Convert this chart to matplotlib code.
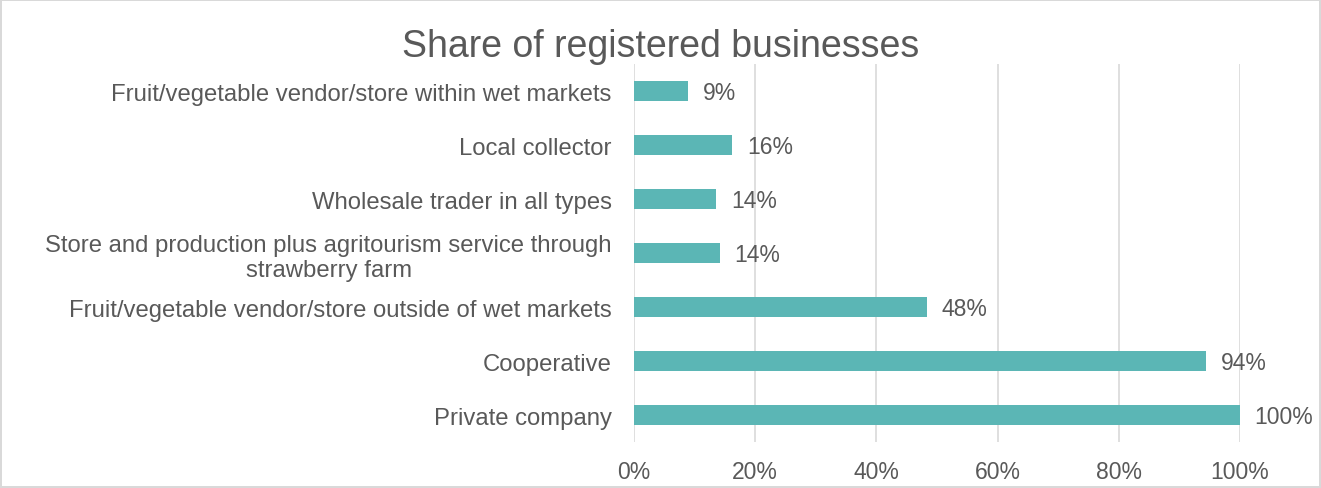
import matplotlib.pyplot as plt
import matplotlib.ticker as mtick

plt.rcParams['font.family'] = ['Liberation Sans', 'DejaVu Sans']

categories = [
    'Fruit/vegetable vendor/store within wet markets',
    'Local collector',
    'Wholesale trader in all types',
    'Store and production plus agritourism service through\nstrawberry farm',
    'Fruit/vegetable vendor/store outside of wet markets',
    'Cooperative',
    'Private company',
]
shares = [0.089, 0.162, 0.136, 0.142, 0.483, 0.944, 1.0]

bar_color = '#5BB6B5'
text_color = '#595959'
grid_color = '#D9D9D9'

fig = plt.figure(figsize=(13.21, 4.89), dpi=100)
fig.patch.set_edgecolor('#D9D9D9')
fig.patch.set_linewidth(1.5)
ax = fig.add_axes([0.48, 0.094, 0.4587, 0.773])

y = list(range(len(categories)))
ax.barh(y, shares, height=0.37, color=bar_color, zorder=3)

# value labels to the right of each bar
for yi, v in zip(y, shares):
    ax.text(v + 0.024, yi + 0.03, f'{v:.0%}', va='center', ha='left',
            fontsize=16.5, color=text_color)

ax.set_xlim(0, 1)
ax.set_ylim(len(categories) - 0.5, -0.5)
ax.set_yticks(y)
ax.set_yticklabels(categories, multialignment='center', linespacing=1.2)
ax.set_xticks([0, 0.2, 0.4, 0.6, 0.8, 1.0])
ax.xaxis.set_major_formatter(mtick.PercentFormatter(1.0, decimals=0))

ax.tick_params(axis='y', length=0, pad=16, labelsize=17.2, labelcolor=text_color)
ax.tick_params(axis='x', length=0, pad=13, labelsize=16.5, labelcolor=text_color)
ax.grid(axis='x', color=grid_color, linewidth=1.2, zorder=0)
for s in ax.spines.values():
    s.set_visible(False)

fig.text(0.5, 0.903, 'Share of registered businesses', ha='center', va='center',
         fontsize=27, color=text_color)

fig.savefig('out.png', dpi=100)
